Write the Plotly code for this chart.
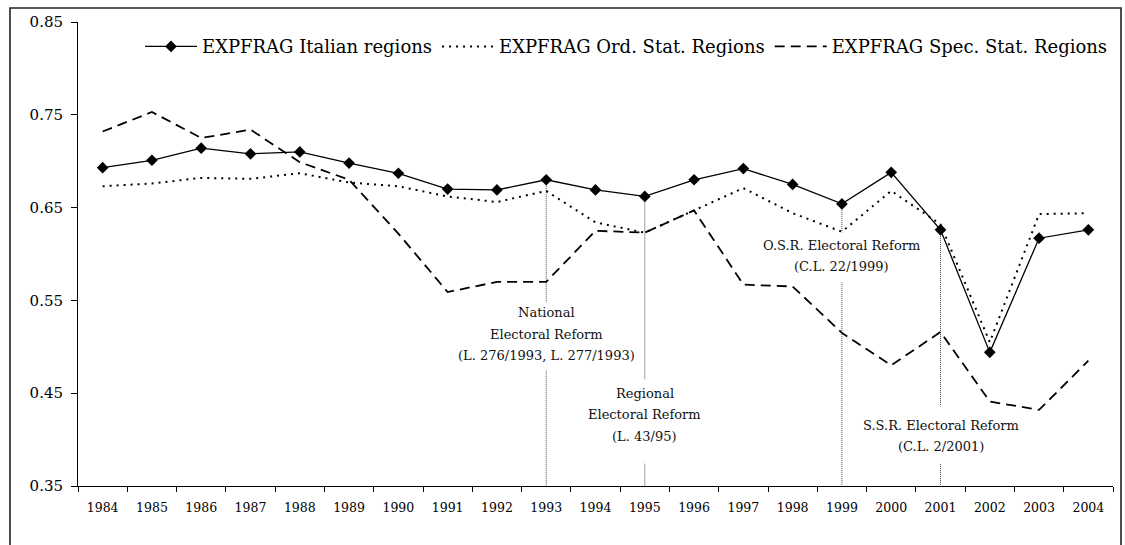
import plotly.graph_objects as go

years = [str(y) for y in range(1984, 2005)]

italian = [0.693, 0.701, 0.714, 0.708, 0.710, 0.698, 0.687, 0.670, 0.669, 0.680,
           0.669, 0.662, 0.680, 0.692, 0.675, 0.654, 0.688, 0.626, 0.494, 0.617, 0.626]
ordinary = [0.673, 0.676, 0.682, 0.681, 0.687, 0.677, 0.673, 0.662, 0.656, 0.668,
            0.634, 0.623, 0.647, 0.671, 0.644, 0.624, 0.668, 0.632, 0.505, 0.643, 0.644]
special = [0.732, 0.753, 0.725, 0.734, 0.699, 0.680, 0.622, 0.559, 0.570, 0.570,
           0.625, 0.623, 0.647, 0.567, 0.565, 0.515, 0.480, 0.516, 0.441, 0.432, 0.485]

names = ["EXPFRAG Italian regions", "EXPFRAG Ord. Stat. Regions", "EXPFRAG Spec. Stat. Regions"]
y_ticks = [0.35, 0.45, 0.55, 0.65, 0.75, 0.85]

reform_years = ["1993", "1995", "1999", "2001"]
reform_texts = [
    ["National", "Electoral Reform", "(L. 276/1993, L. 277/1993)"],
    ["Regional", "Electoral Reform", "(L. 43/95)"],
    ["O.S.R. Electoral Reform", "(C.L. 22/1999)"],
    ["S.S.R. Electoral Reform", "(C.L. 2/2001)"],
]
# label block centres (value units) and white gaps cut in the reference lines
text_centres = [0.5133, 0.4266, 0.5978, 0.4039]
gap_centres = [0.5111, 0.4193, 0.5964, 0.4051]
gap_heights = [67, 83, 49, 56]

FONT = "DejaVu Serif"

fig = go.Figure()
fig.add_trace(go.Scatter(x=years, y=italian, name=names[0], mode="lines+markers",
                         line=dict(color="black", width=1.3),
                         marker=dict(symbol="diamond", size=9, color="black")))
fig.add_trace(go.Scatter(x=years, y=ordinary, name=names[1], mode="lines",
                         line=dict(color="black", width=2, dash="2px,5px")))
fig.add_trace(go.Scatter(x=years, y=special, name=names[2], mode="lines",
                         line=dict(color="black", width=1.8, dash="10px,6px")))

shapes = []
annotations = []
for yr, texts, tc, gc, gh in zip(reform_years, reform_texts, text_centres, gap_centres, gap_heights):
    idx = years.index(yr)
    shapes.append(dict(type="line", xref="x", yref="y", x0=idx, x1=idx,
                       y0=italian[idx], y1=0.35, layer="between",
                       line=dict(color="#444", width=1, dash="1px,1px")))
    annotations.append(dict(x=idx, y=gc, xref="x", yref="y", text="&nbsp;", showarrow=False,
                            width=12, height=gh, bgcolor="white", borderpad=0,
                            font=dict(family=FONT, size=4)))
    n = len(texts)
    for k, t in enumerate(texts):
        shift = ((n - 1) / 2 - k) * 21.5
        annotations.append(dict(x=idx, y=tc, xref="x", yref="y", text=t, showarrow=False,
                                yshift=shift, xanchor="center", yanchor="middle",
                                font=dict(family=FONT, size=13, color="#111")))

# outer frame
shapes.append(dict(type="rect", xref="paper", yref="paper",
                   x0=(10 - 78) / 1035, x1=(1121 - 78) / 1035,
                   y0=-0.2, y1=(486 - 8) / 464,
                   line=dict(color="#222", width=1.6), fillcolor="rgba(0,0,0,0)"))

fig.update_layout(
    width=1125, height=545,
    margin=dict(l=78, r=12, t=22, b=59),
    paper_bgcolor="white", plot_bgcolor="white",
    font=dict(family=FONT, color="black"),
    showlegend=True,
    legend=dict(orientation="h", x=1.0, xanchor="right", y=(486 - 46.7) / 464, yanchor="middle",
                font=dict(family=FONT, size=18, color="black"), itemwidth=52,
                bgcolor="rgba(0,0,0,0)", traceorder="normal"),
    shapes=shapes,
    annotations=annotations,
)
fig.update_xaxes(type="category", range=[-0.5, 20.5], showline=True, linecolor="black", linewidth=1,
                 ticks="outside", tickson="boundaries", ticklen=5, tickcolor="black",
                 showgrid=False, zeroline=False, ticklabelstandoff=10,
                 tickfont=dict(family=FONT, size=12.5, color="black"))
fig.update_yaxes(range=[0.35, 0.85], tickvals=y_ticks, ticktext=[f"{v:.2f}" for v in y_ticks],
                 showline=True, linecolor="black", linewidth=1,
                 ticks="outside", ticklen=6, tickcolor="black",
                 showgrid=False, zeroline=False, ticklabelstandoff=5,
                 tickfont=dict(family=FONT, size=15, color="black"))

fig.write_html("out.html")
